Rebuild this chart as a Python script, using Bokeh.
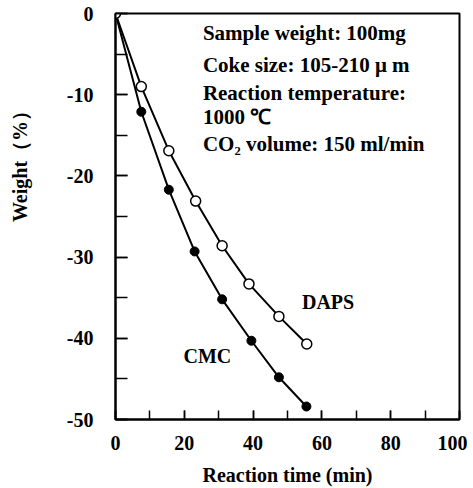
from bokeh.plotting import figure
from bokeh.models import Range1d, Label, SingleIntervalTicker, PrintfTickFormatter
from bokeh.embed import file_html
from bokeh.resources import INLINE

# Data
cmc_time = [0, 7.5, 15.5, 23, 31, 39.5, 47.5, 55.5]
cmc_weight = [0, -12.1, -21.7, -29.3, -35.2, -40.3, -44.8, -48.4]
daps_time = [0, 7.5, 15.5, 23.3, 31, 38.8, 47.5, 55.6]
daps_weight = [0, -9.0, -16.9, -23.1, -28.6, -33.3, -37.3, -40.7]

info_lines = ["Sample weight: 100mg", "Coke size: 105-210 \u03bc m",
              "Reaction temperature:", "1000 \u2103", "CO\u2082 volume: 150 ml/min"]
info_y = [-2.4, -6.3, -9.8, -12.8, -16.1]

FONT = "Liberation Serif"

p = figure(width=467, height=488, output_backend="svg", toolbar_location=None,
           x_range=Range1d(0, 100), y_range=Range1d(-50, 0),
           min_border_left=115, min_border_right=8, min_border_top=13, min_border_bottom=67)
p.grid.visible = False
p.background_fill_color = "white"
p.border_fill_color = "white"
p.outline_line_color = "black"
p.outline_line_width = 2

for ax in (p.xaxis[0], p.yaxis[0]):
    ax.axis_line_width = 2
    ax.axis_line_color = "black"
    ax.major_tick_out = 0
    ax.minor_tick_out = 0
    ax.major_tick_line_width = 1.5
    ax.minor_tick_line_width = 1.5
    ax.major_label_text_font = FONT
    ax.major_label_text_font_style = "bold"
    ax.major_label_text_font_size = "20px"
    ax.major_label_text_color = "black"
    ax.axis_label_text_font = FONT
    ax.axis_label_text_font_style = "bold"
    ax.axis_label_text_font_size = "20px"
    ax.axis_label_text_color = "black"
    ax.formatter = PrintfTickFormatter(format="%d")

p.xaxis.ticker = SingleIntervalTicker(interval=20, num_minor_ticks=2)
p.xaxis.major_tick_in = 9
p.xaxis.minor_tick_in = 9
p.xaxis.major_label_standoff = 16
p.xaxis.axis_label = "Reaction time (min)"
p.xaxis.axis_label_standoff = 11

p.yaxis.ticker = SingleIntervalTicker(interval=10, num_minor_ticks=2)
p.yaxis.major_tick_in = 12
p.yaxis.minor_tick_in = 12
p.yaxis.major_label_standoff = 22
# leading non-breaking spaces shift the visible title toward the top, as in the reference
p.yaxis.axis_label = "\u00a0" * 22 + "Weight\uff08%\uff09"
p.yaxis.axis_label_standoff = 33

p.line(cmc_time, cmc_weight, line_color="black", line_width=2)
p.line(daps_time, daps_weight, line_color="black", line_width=2)
p.scatter(cmc_time, cmc_weight, marker="circle", size=9, fill_color="black", line_color="black")
p.scatter(daps_time, daps_weight, marker="circle", size=10, fill_color="white",
          line_color="black", line_width=1.5)

for t, yy in zip(info_lines, info_y):
    p.add_layout(Label(x=25.4, y=yy, text=t, text_font=FONT, text_font_style="bold",
                       text_font_size="21px", text_baseline="middle", text_color="black"))

p.add_layout(Label(x=61.8, y=-35.5, text="DAPS", text_font=FONT, text_font_style="bold",
                   text_font_size="20px", text_baseline="middle", text_align="center",
                   text_color="black"))
p.add_layout(Label(x=26.7, y=-42.2, text="CMC", text_font=FONT, text_font_style="bold",
                   text_font_size="20px", text_baseline="middle", text_align="center",
                   text_color="black"))

open("out.html", "w").write(file_html(p, INLINE))
